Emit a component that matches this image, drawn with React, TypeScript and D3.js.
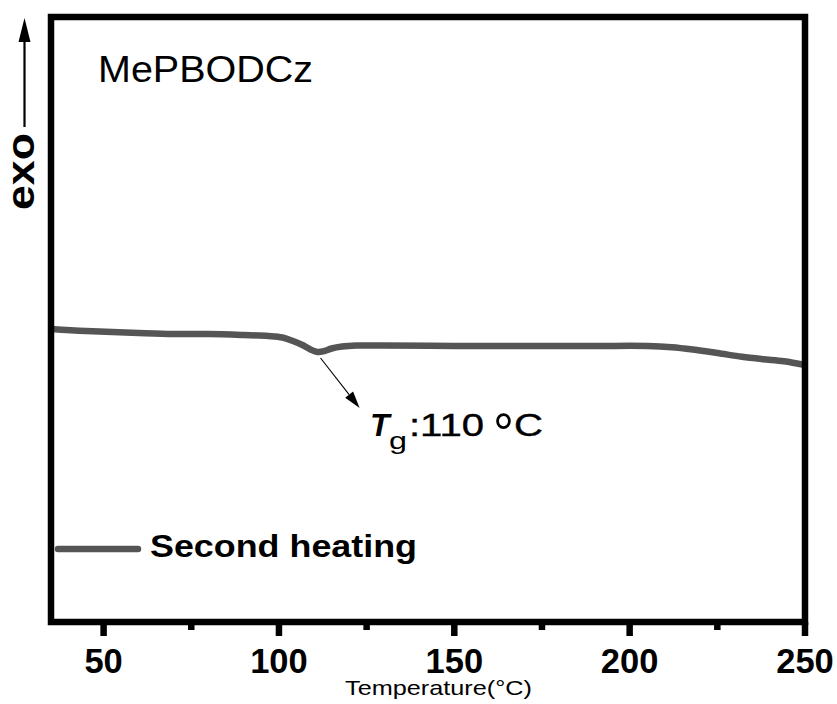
import React from "react";
import * as d3 from "d3";

// Second-heating DSC trace of MePBODCz (heat flow, arbitrary units; exo up)
const temperature: number[] = [35, 45, 60, 70, 80, 90, 97, 101, 104, 107, 109, 111, 113, 115, 118, 122, 130, 150, 170, 190, 205, 212, 218, 225, 232, 238, 244, 250];
const heatFlow: number[] = [2.93, 2.91, 2.89, 2.88, 2.88, 2.87, 2.86, 2.845, 2.81, 2.765, 2.725, 2.70, 2.71, 2.735, 2.755, 2.765, 2.765, 2.76, 2.76, 2.76, 2.76, 2.748, 2.725, 2.69, 2.652, 2.628, 2.608, 2.57];
const majorTicks: number[] = [50, 100, 150, 200, 250];
const minorTicks: number[] = [75, 125, 175, 225];
const sampleName = "MePBODCz";
const seriesName = "Second heating";
const tgValue = 110;

const W = 837;
const H = 704;
const plot = { left: 51, right: 805, top: 17, bottom: 622 };
const FONT = "'Liberation Sans', Arial, Helvetica, sans-serif";
const LINE_COLOR = "#555555";

export default function App() {
  const x = d3.scaleLinear().domain([35, 250]).range([plot.left, plot.right]);
  const y = d3.scaleLinear().domain([0, 6.05]).range([plot.bottom, plot.top]);

  const points = temperature.map((t, i) => [t, heatFlow[i]] as [number, number]);
  const path = d3
    .line<[number, number]>()
    .x((d) => x(d[0]))
    .y((d) => y(d[1]))
    .curve(d3.curveCatmullRom.alpha(0.5))(points) as string;

  // Tg annotation arrow: from just below the dip toward the label
  const dipIdx = heatFlow.indexOf(d3.min(heatFlow.slice(0, 16)) as number);
  const ax1 = x(temperature[dipIdx]) + 3;
  const ay1 = y(heatFlow[dipIdx]) + 6;
  const ax2 = x(123);
  const ay2 = y(2.14);
  const ang = Math.atan2(ay2 - ay1, ax2 - ax1);
  const headLen = 17;
  const headHalf = 5;
  const bx = ax2 - headLen * Math.cos(ang);
  const by = ay2 - headLen * Math.sin(ang);
  const px = -Math.sin(ang) * headHalf;
  const py = Math.cos(ang) * headHalf;

  const tgY = 436;

  return (
    <svg
      width={W}
      height={H}
      viewBox={`0 0 ${W} ${H}`}
      style={{ position: "absolute", left: 0, top: 0, background: "#fff" }}
    >
      <rect width={W} height={H} fill="#fff" />

      {/* data curve */}
      <path d={path} fill="none" stroke={LINE_COLOR} strokeWidth={6.5} strokeLinejoin="round" />

      {/* plot frame */}
      <rect
        x={plot.left}
        y={plot.top}
        width={plot.right - plot.left}
        height={plot.bottom - plot.top}
        fill="none"
        stroke="#000"
        strokeWidth={6.5}
      />

      {/* x ticks */}
      {majorTicks.map((t) => (
        <line key={`M${t}`} x1={x(t)} x2={x(t)} y1={plot.bottom} y2={plot.bottom + 14} stroke="#000" strokeWidth={6.5} />
      ))}
      {minorTicks.map((t) => (
        <line key={`m${t}`} x1={x(t)} x2={x(t)} y1={plot.bottom} y2={plot.bottom + 8} stroke="#000" strokeWidth={6.5} />
      ))}
      {majorTicks.map((t) => (
        <text
          key={`L${t}`}
          x={x(t)}
          y={673}
          textAnchor="middle"
          fontFamily={FONT}
          fontWeight="bold"
          fontSize={34.5}
          fill="#000"
        >
          {t}
        </text>
      ))}

      {/* x axis title */}
      <text
        x={345}
        y={695}
        fontFamily={FONT}
        fontSize={21}
        textLength={187}
        lengthAdjust="spacingAndGlyphs"
        fill="#000"
      >
        Temperature(°C)
      </text>

      {/* exo direction indicator */}
      <text
        transform="translate(34,210) rotate(-90)"
        fontFamily={FONT}
        fontWeight="bold"
        fontSize={38.5}
        textLength={77}
        lengthAdjust="spacingAndGlyphs"
        fill="#000"
      >
        exo
      </text>
      <line x1={24.5} x2={24.5} y1={127} y2={40} stroke="#000" strokeWidth={2.2} />
      <path d="M24.5,18 L30.5,42 L18.5,42 Z" fill="#000" />

      {/* sample name */}
      <text
        x={98}
        y={82}
        fontFamily={FONT}
        fontSize={37}
        textLength={215}
        lengthAdjust="spacingAndGlyphs"
        fill="#000"
      >
        {sampleName}
      </text>

      {/* Tg annotation */}
      <line x1={ax1} y1={ay1} x2={bx} y2={by} stroke="#000" strokeWidth={1.1} />
      <path d={`M${ax2},${ay2} L${bx + px},${by + py} L${bx - px},${by - py} Z`} fill="#000" />
      <g fontFamily={FONT} fill="#000">
        <text x={370} y={tgY} fontSize={32} fontStyle="italic" fontWeight="bold">T</text>
        <text x={389} y={tgY + 13} fontSize={23} textLength={18} lengthAdjust="spacingAndGlyphs">g</text>
        <text x={409} y={tgY} fontSize={32} textLength={75} lengthAdjust="spacingAndGlyphs" stroke="#000" strokeWidth={0.4}>
          :{tgValue}
        </text>
        <text x={493} y={tgY + 16} fontSize={56} textLength={21} lengthAdjust="spacingAndGlyphs">°</text>
        <text x={514} y={tgY} fontSize={32} textLength={29} lengthAdjust="spacingAndGlyphs" stroke="#000" strokeWidth={0.4}>C</text>
      </g>

      {/* legend */}
      <line x1={58} x2={138} y1={549} y2={549} stroke={LINE_COLOR} strokeWidth={6.5} strokeLinecap="round" />
      <text
        x={150}
        y={557}
        fontFamily={FONT}
        fontWeight="bold"
        fontSize={30.5}
        textLength={267}
        lengthAdjust="spacingAndGlyphs"
        fill="#000"
      >
        {seriesName}
      </text>
    </svg>
  );
}
